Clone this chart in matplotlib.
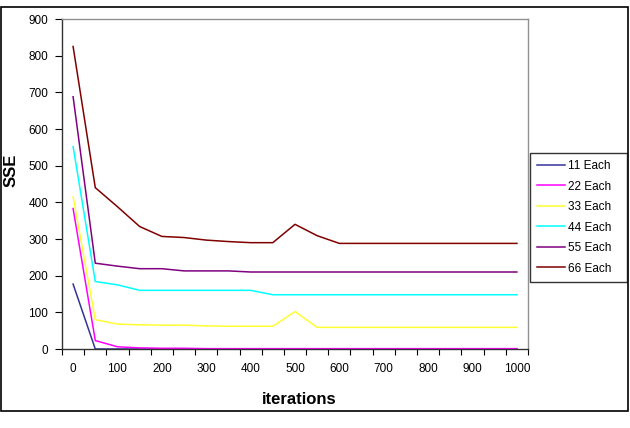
import matplotlib.pyplot as plt
from matplotlib.patches import Rectangle

plt.rcParams['font.family'] = ['Liberation Sans', 'DejaVu Sans']

# category axis: iterations 0, 50, ..., 1000
iterations = list(range(0, 1001, 50))

sse_11 = [177, 0, 0, 0, 0, 0, 0, 0, 0, 0, 0, 0, 0, 0, 0, 0, 0, 0, 0, 0, 0]
sse_22 = [383, 23, 6, 3, 2, 2, 1, 1, 1, 1, 1, 1, 1, 1, 1, 1, 1, 1, 1, 1, 1]
sse_33 = [415, 80, 68, 66, 65, 65, 63, 62, 62, 62, 102, 59, 59, 59, 59, 59, 59, 59, 59, 59, 59]
sse_44 = [552, 184, 175, 160, 160, 160, 160, 160, 160, 148, 148, 148, 148, 148, 148, 148, 148, 148, 148, 148, 148]
sse_55 = [688, 234, 226, 219, 219, 213, 213, 213, 210, 210, 210, 210, 210, 210, 210, 210, 210, 210, 210, 210, 210]
sse_66 = [825, 440, 388, 334, 307, 304, 297, 293, 290, 290, 340, 309, 288, 288, 288, 288, 288, 288, 288, 288, 288]

labels = ['11 Each', '22 Each', '33 Each', '44 Each', '55 Each', '66 Each']
colors = ['#333399', '#ff00ff', '#ffff33', '#00ffff', '#800080', '#800000']

fig = plt.figure(figsize=(6.3, 4.28), dpi=100)
ax = fig.add_axes([62/630, 1-349/428, 466/630, 330/428])

for ys, lab, c in zip([sse_11, sse_22, sse_33, sse_44, sse_55, sse_66], labels, colors):
    ax.plot(iterations, ys, color=c, linewidth=1.1, label=lab)

ax.set_ylim(0, 900)
ax.set_xlim(-25, 1025)
ax.set_yticks(range(0, 901, 100))
ax.set_xticks(range(0, 1001, 100))
ax.set_xticks([i - 25 for i in range(0, 1051, 50)], minor=True)
ax.tick_params(axis='x', which='major', length=0, pad=10, labelsize=8.5)
ax.tick_params(axis='x', which='minor', length=4, width=0.8, direction='out')
ax.tick_params(axis='y', length=5, width=0.8, pad=5, labelsize=8.5)

for s in ['top', 'right']:
    ax.spines[s].set_color('#909090')
    ax.spines[s].set_linewidth(1.0)
for s in ['left', 'bottom']:
    ax.spines[s].set_color('#333333')
    ax.spines[s].set_linewidth(1.0)

ax.set_ylabel('SSE', fontsize=12, fontweight='bold')
ax.yaxis.set_label_coords(-43/466, 0.54)
ax.set_xlabel('iterations', fontsize=12, fontweight='bold')
ax.xaxis.set_label_coords(0.51, -43/330)

leg = fig.legend(loc='upper left', bbox_to_anchor=(530/630, 1-153/428, 97/630, 0),
                 mode='expand', borderaxespad=0, fontsize=8.5, frameon=True, fancybox=False,
                 labelspacing=0.72, handlelength=2.4, handletextpad=0.2, borderpad=0.6)
leg.get_frame().set_edgecolor('black')
leg.get_frame().set_linewidth(1.0)

# outer chart border
fig.patches.append(Rectangle((1/630, 1-411/428), 627/630, 404/428, transform=fig.transFigure,
                             fill=False, edgecolor='black', linewidth=1.2))

fig.savefig('out.png', dpi=100)
